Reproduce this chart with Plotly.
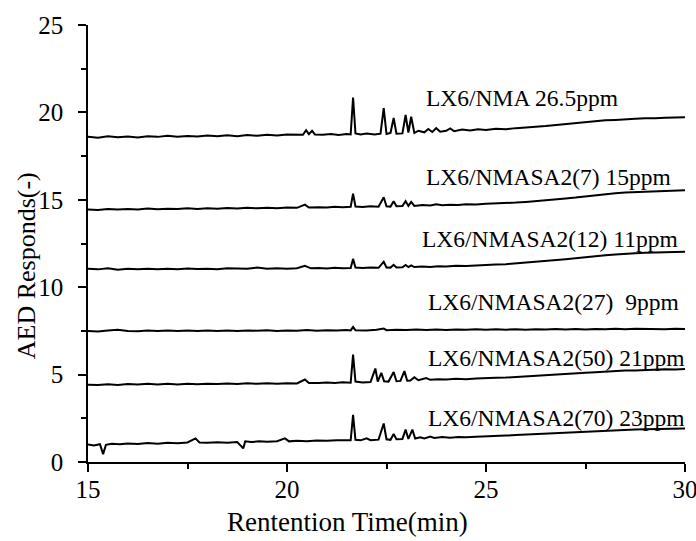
import plotly.graph_objects as go

# Chromatogram traces: (retention time [min], AED response)
NMA_26_5 = [
    (15.0, 18.60), (15.25, 18.55), (15.5, 18.63), (15.75, 18.58), (16.0, 18.62), (16.25, 18.57),
    (16.5, 18.64), (16.75, 18.60), (17.0, 18.66), (17.25, 18.61), (17.5, 18.65), (17.75, 18.62),
    (18.0, 18.68), (18.25, 18.63), (18.5, 18.69), (18.75, 18.64), (19.0, 18.70), (19.25, 18.66),
    (19.5, 18.72), (19.75, 18.68), (20.0, 18.73), (20.25, 18.70), (20.4, 18.72), (20.48, 18.98),
    (20.55, 18.76), (20.63, 18.95), (20.7, 18.74), (20.9, 18.72), (21.1, 18.77), (21.3, 18.71),
    (21.5, 18.76), (21.6, 18.74), (21.66, 20.85), (21.72, 18.80), (21.85, 18.74), (22.0, 18.79),
    (22.2, 18.73), (22.35, 18.78), (22.43, 20.25), (22.5, 18.76), (22.6, 18.82), (22.68, 19.68),
    (22.75, 18.78), (22.9, 18.80), (22.98, 19.85), (23.05, 18.85), (23.12, 19.75), (23.2, 18.82),
    (23.3, 18.95), (23.45, 18.86), (23.55, 19.05), (23.65, 18.88), (23.75, 19.10), (23.85, 18.90),
    (24.0, 18.95), (24.1, 19.08), (24.2, 18.92), (24.4, 19.02), (24.6, 18.96), (24.8, 19.04),
    (25.0, 19.00), (25.25, 19.06), (25.5, 19.03), (25.75, 19.10), (26.0, 19.12), (26.25, 19.18),
    (26.5, 19.22), (26.75, 19.28), (27.0, 19.33), (27.25, 19.38), (27.5, 19.45), (27.75, 19.48),
    (28.0, 19.55), (28.25, 19.57), (28.5, 19.62), (28.75, 19.63), (29.0, 19.67), (29.25, 19.66),
    (29.5, 19.70), (29.75, 19.69), (30.0, 19.72),
]
NMASA2_7 = [
    (15.0, 14.45), (15.25, 14.42), (15.5, 14.47), (15.75, 14.44), (16.0, 14.48), (16.25, 14.45),
    (16.5, 14.50), (16.75, 14.46), (17.0, 14.49), (17.25, 14.47), (17.5, 14.51), (17.75, 14.48),
    (18.0, 14.52), (18.25, 14.49), (18.5, 14.53), (18.75, 14.50), (19.0, 14.54), (19.25, 14.51),
    (19.5, 14.55), (19.75, 14.52), (20.0, 14.56), (20.25, 14.54), (20.45, 14.72), (20.55, 14.56),
    (20.8, 14.58), (21.0, 14.56), (21.2, 14.60), (21.4, 14.57), (21.6, 14.60), (21.66, 15.35),
    (21.72, 14.62), (21.9, 14.59), (22.1, 14.63), (22.3, 14.60), (22.43, 15.15), (22.5, 14.63),
    (22.6, 14.61), (22.68, 14.92), (22.75, 14.63), (22.9, 14.64), (22.98, 14.92), (23.05, 14.65),
    (23.12, 14.88), (23.2, 14.65), (23.4, 14.70), (23.6, 14.67), (23.75, 14.75), (23.9, 14.69),
    (24.1, 14.72), (24.3, 14.70), (24.5, 14.74), (24.75, 14.73), (25.0, 14.77), (25.25, 14.78),
    (25.5, 14.82), (25.75, 14.84), (26.0, 14.88), (26.25, 14.92), (26.5, 14.97), (26.75, 15.02),
    (27.0, 15.08), (27.25, 15.13), (27.5, 15.20), (27.75, 15.28), (28.0, 15.33), (28.25, 15.38),
    (28.5, 15.42), (28.75, 15.44), (29.0, 15.47), (29.25, 15.48), (29.5, 15.52), (29.75, 15.51),
    (30.0, 15.55),
]
NMASA2_12 = [
    (15.0, 11.05), (15.25, 11.02), (15.5, 11.08), (15.75, 11.00), (16.0, 11.05), (16.25, 11.02),
    (16.5, 11.06), (16.75, 11.03), (17.0, 11.05), (17.25, 11.02), (17.5, 11.07), (17.75, 11.04),
    (18.0, 11.06), (18.25, 11.03), (18.5, 11.08), (18.75, 11.05), (19.0, 11.06), (19.25, 11.12),
    (19.5, 11.06), (19.75, 11.08), (20.0, 11.05), (20.25, 11.09), (20.45, 11.22), (20.6, 11.08),
    (20.8, 11.10), (21.0, 11.07), (21.2, 11.11), (21.4, 11.08), (21.6, 11.10), (21.66, 11.62),
    (21.72, 11.12), (21.9, 11.10), (22.1, 11.13), (22.3, 11.11), (22.43, 11.45), (22.5, 11.13),
    (22.6, 11.12), (22.68, 11.28), (22.75, 11.13), (22.9, 11.14), (22.98, 11.27), (23.05, 11.15),
    (23.12, 11.25), (23.2, 11.15), (23.4, 11.18), (23.6, 11.16), (23.8, 11.20), (24.0, 11.18),
    (24.25, 11.22), (24.5, 11.21), (24.75, 11.25), (25.0, 11.26), (25.25, 11.30), (25.5, 11.32),
    (25.75, 11.36), (26.0, 11.40), (26.25, 11.44), (26.5, 11.49), (26.75, 11.54), (27.0, 11.60),
    (27.25, 11.65), (27.5, 11.72), (27.75, 11.77), (28.0, 11.83), (28.25, 11.87), (28.5, 11.92),
    (28.75, 11.94), (29.0, 11.97), (29.25, 11.98), (29.5, 12.01), (29.75, 12.00), (30.0, 12.03),
]
NMASA2_27 = [
    (15.0, 7.50), (15.25, 7.47), (15.5, 7.52), (15.75, 7.56), (16.0, 7.50), (16.25, 7.48),
    (16.5, 7.52), (16.75, 7.49), (17.0, 7.52), (17.25, 7.50), (17.5, 7.53), (17.75, 7.49),
    (18.0, 7.52), (18.25, 7.50), (18.5, 7.53), (18.75, 7.50), (19.0, 7.53), (19.25, 7.51),
    (19.5, 7.54), (19.75, 7.50), (20.0, 7.53), (20.25, 7.51), (20.5, 7.55), (20.75, 7.51),
    (21.0, 7.54), (21.25, 7.52), (21.5, 7.55), (21.6, 7.53), (21.66, 7.72), (21.72, 7.54),
    (22.0, 7.53), (22.25, 7.56), (22.43, 7.64), (22.5, 7.54), (22.75, 7.57), (23.0, 7.55),
    (23.25, 7.58), (23.5, 7.55), (23.75, 7.58), (24.0, 7.55), (24.25, 7.58), (24.5, 7.56),
    (24.75, 7.59), (25.0, 7.56), (25.25, 7.59), (25.5, 7.57), (25.75, 7.60), (26.0, 7.57),
    (26.25, 7.60), (26.5, 7.58), (26.75, 7.61), (27.0, 7.58), (27.25, 7.61), (27.5, 7.58),
    (27.75, 7.61), (28.0, 7.59), (28.25, 7.62), (28.5, 7.59), (28.75, 7.62), (29.0, 7.60),
    (29.25, 7.62), (29.5, 7.60), (29.75, 7.63), (30.0, 7.61),
]
NMASA2_50 = [
    (15.0, 4.42), (15.25, 4.40), (15.5, 4.45), (15.75, 4.41), (16.0, 4.46), (16.25, 4.43),
    (16.5, 4.47), (16.75, 4.44), (17.0, 4.47), (17.25, 4.44), (17.5, 4.48), (17.75, 4.45),
    (18.0, 4.48), (18.25, 4.46), (18.5, 4.49), (18.75, 4.46), (19.0, 4.50), (19.25, 4.47),
    (19.5, 4.50), (19.75, 4.48), (20.0, 4.51), (20.25, 4.49), (20.45, 4.72), (20.55, 4.52),
    (20.8, 4.52), (21.0, 4.55), (21.2, 4.52), (21.4, 4.56), (21.6, 4.54), (21.66, 6.15),
    (21.72, 4.60), (21.9, 4.55), (22.1, 4.58), (22.22, 5.35), (22.28, 4.60), (22.37, 5.10),
    (22.44, 4.62), (22.55, 4.60), (22.68, 5.15), (22.75, 4.62), (22.85, 4.64), (22.95, 5.20),
    (23.02, 4.65), (23.1, 4.66), (23.2, 4.85), (23.3, 4.68), (23.5, 4.80), (23.6, 4.70),
    (23.8, 4.74), (24.0, 4.72), (24.25, 4.76), (24.5, 4.74), (24.75, 4.78), (25.0, 4.78),
    (25.25, 4.82), (25.5, 4.83), (25.75, 4.87), (26.0, 4.90), (26.25, 4.93), (26.5, 4.97),
    (26.75, 5.00), (27.0, 5.04), (27.25, 5.07), (27.5, 5.11), (27.75, 5.14), (28.0, 5.18),
    (28.25, 5.20), (28.5, 5.23), (28.75, 5.24), (29.0, 5.27), (29.25, 5.27), (29.5, 5.30),
    (29.75, 5.29), (30.0, 5.32),
]
NMASA2_70 = [
    (15.0, 1.00), (15.15, 0.95), (15.3, 1.02), (15.38, 0.45), (15.45, 0.98), (15.6, 1.05),
    (15.8, 1.02), (16.0, 1.06), (16.25, 1.03), (16.5, 1.08), (16.75, 1.05), (17.0, 1.10),
    (17.25, 1.07), (17.5, 1.12), (17.7, 1.35), (17.8, 1.12), (18.0, 1.10), (18.25, 1.13),
    (18.5, 1.10), (18.75, 1.14), (18.9, 0.78), (18.95, 1.18), (19.1, 1.14), (19.3, 1.18),
    (19.5, 1.16), (19.75, 1.19), (19.95, 1.35), (20.05, 1.18), (20.25, 1.21), (20.5, 1.19),
    (20.75, 1.23), (21.0, 1.21), (21.25, 1.24), (21.5, 1.22), (21.6, 1.24), (21.66, 2.70),
    (21.72, 1.27), (21.85, 1.24), (22.0, 1.36), (22.1, 1.25), (22.3, 1.28), (22.43, 2.20),
    (22.5, 1.30), (22.6, 1.27), (22.68, 1.60), (22.75, 1.30), (22.9, 1.32), (22.98, 1.85),
    (23.05, 1.32), (23.15, 1.85), (23.22, 1.34), (23.35, 1.42), (23.45, 1.35), (23.6, 1.46),
    (23.7, 1.37), (23.9, 1.43), (24.1, 1.39), (24.3, 1.43), (24.5, 1.41), (24.75, 1.45),
    (25.0, 1.46), (25.25, 1.49), (25.5, 1.51), (25.75, 1.54), (26.0, 1.57), (26.25, 1.60),
    (26.5, 1.63), (26.75, 1.66), (27.0, 1.69), (27.25, 1.72), (27.5, 1.75), (27.75, 1.78),
    (28.0, 1.80), (28.25, 1.82), (28.5, 1.85), (28.75, 1.86), (29.0, 1.88), (29.25, 1.88),
    (29.5, 1.90), (29.75, 1.90), (30.0, 1.92),
]

TRACES = [NMA_26_5, NMASA2_7, NMASA2_12, NMASA2_27, NMASA2_50, NMASA2_70]
LABELS = [
    "LX6/NMA 26.5ppm",
    "LX6/NMASA2(7) 15ppm",
    "LX6/NMASA2(12) 11ppm",
    "LX6/NMASA2(27)  9ppm",
    "LX6/NMASA2(50) 21ppm",
    "LX6/NMASA2(70) 23ppm",
]
LABEL_X = [23.45, 23.45, 23.35, 23.5, 23.5, 23.5]
LABEL_Y = [20.8, 16.3, 12.75, 9.15, 5.95, 2.5]

X_TICKS = [15, 20, 25, 30]
X_MINOR = [17.5, 22.5, 27.5]
Y_TICKS = [0, 5, 10, 15, 20, 25]
Y_MINOR = [2.5, 7.5, 12.5, 17.5, 22.5]

X_TITLE = "Rentention Time(min)"
Y_TITLE = "AED Responds(-)"

FONT = "Liberation Serif, Times New Roman, serif"

fig = go.Figure()
for trace, name in zip(TRACES, LABELS):
    xs = [p[0] for p in trace]
    ys = [p[1] for p in trace]
    fig.add_trace(go.Scatter(x=xs, y=ys, mode="lines", name=name,
                             line=dict(color="black", width=2), showlegend=False))

for text, lx, ly in zip(LABELS, LABEL_X, LABEL_Y):
    fig.add_annotation(x=lx, y=ly, text=text.replace("  ", "&nbsp; "), showarrow=False,
                       xanchor="left", yanchor="middle",
                       font=dict(family=FONT, size=23.5, color="black"))

# axis titles placed as text (slightly off-centre as in the original)
fig.add_annotation(xref="paper", yref="paper", x=0.434, y=-0.137, text=X_TITLE,
                   showarrow=False, xanchor="center", yanchor="middle",
                   font=dict(family=FONT, size=27, color="black"))
fig.add_annotation(xref="paper", yref="paper", x=-0.104, y=0.45, text=Y_TITLE,
                   showarrow=False, xanchor="center", yanchor="middle", textangle=-90,
                   font=dict(family=FONT, size=26, color="black"))

axis_common = dict(
    showline=True, linecolor="black", linewidth=1.5, mirror=False,
    ticks="outside", ticklen=8, tickwidth=1.5, tickcolor="black",
    showgrid=False, zeroline=False, automargin=False,
    ticklabeloverflow="allow",
    tickfont=dict(family=FONT, size=25, color="black"),
)

fig.update_xaxes(range=[15, 30], tickmode="array", tickvals=X_TICKS,
                 ticktext=[str(v) for v in X_TICKS], ticklabelstandoff=-4,
                 minor=dict(tickmode="array", tickvals=X_MINOR, ticks="outside", ticklen=5,
                            tickwidth=1.5, tickcolor="black", showgrid=False),
                 **axis_common)
fig.update_yaxes(range=[0, 25], tickmode="array", tickvals=Y_TICKS,
                 ticktext=[str(v) for v in Y_TICKS], ticklabelstandoff=10,
                 minor=dict(tickmode="array", tickvals=Y_MINOR, ticks="outside", ticklen=5,
                            tickwidth=1.5, tickcolor="black", showgrid=False),
                 **axis_common)

fig.update_layout(
    width=696, height=541,
    margin=dict(l=88, r=11, t=25, b=79),
    plot_bgcolor="white", paper_bgcolor="white",
    font=dict(family=FONT, color="black"),
)

# remove the browser's default body margin so the figure fills the window exactly
fig.write_html(
    "out.html",
    config={"displayModeBar": False},
    post_script="document.body.style.margin='0';document.body.style.overflow='hidden';",
)
